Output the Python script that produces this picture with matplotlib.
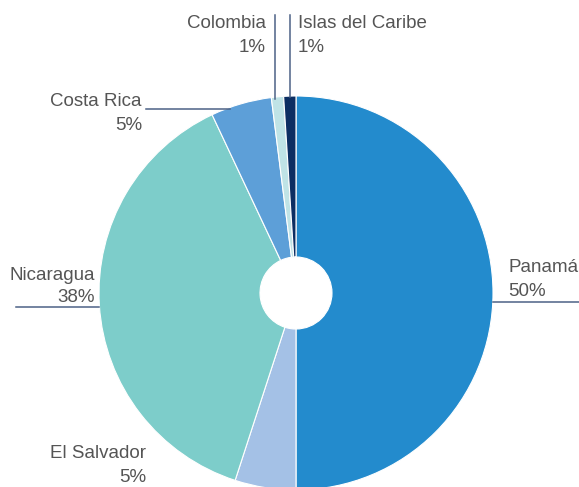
import matplotlib
matplotlib.use("Agg")
import matplotlib.pyplot as plt

# data
paises = ["Panamá", "El Salvador", "Nicaragua", "Costa Rica", "Colombia", "Islas del Caribe"]
valores = [50, 5, 38, 5, 1, 1]
etiquetas = ["50%", "5%", "38%", "5%", "1%", "1%"]
colores = ["#238bcd", "#a4c1e6", "#7dcdca", "#5d9fd8", "#bfe3e6", "#0c2e62"]

W, H = 579, 487
cx, cy, r, r_hole = 296, 293, 197, 36

plt.rcParams['font.family'] = ['Liberation Sans', 'DejaVu Sans']

fig = plt.figure(figsize=(W / 100, H / 100), dpi=100)
ax = fig.add_axes([0, 0, 1, 1])

ax.pie(valores, colors=colores, startangle=90, counterclock=False,
       center=(cx, H - cy), radius=r,
       wedgeprops=dict(width=r - r_hole, edgecolor="white", linewidth=0.8))

# pie resets the limits, so set them afterwards
ax.set_xlim(0, W)
ax.set_ylim(0, H)
ax.set_aspect("equal")
ax.axis("off")

txt = dict(fontsize=13.5, color="#555555", va="center")
linea = dict(color="#4d6286", lw=1.1)

# label layout: (name x, name y, ha)
pos = {
    "Panamá": (508, 268, "left"),
    "El Salvador": (146, 454, "right"),
    "Nicaragua": (95, 275, "right"),
    "Costa Rica": (142, 102, "right"),
    "Colombia": (266, 24, "right"),
    "Islas del Caribe": (298, 24, "left"),
}
for p, e in zip(paises, etiquetas):
    x, y, ha = pos[p]
    ax.text(x, H - y, p, ha=ha, **txt)
    ax.text(x, H - y - 23, e, ha=ha, **txt)

# leader lines
ax.plot([493, W], [H - 302, H - 302], **linea)
ax.plot([16, 99], [H - 307, H - 307], **linea)
ax.plot([146, 230], [H - 109, H - 109], **linea)
ax.plot([275, 275], [H - 15, H - 99], **linea)
ax.plot([290, 290], [H - 15, H - 97], **linea)

fig.savefig("out.png", dpi=100)
